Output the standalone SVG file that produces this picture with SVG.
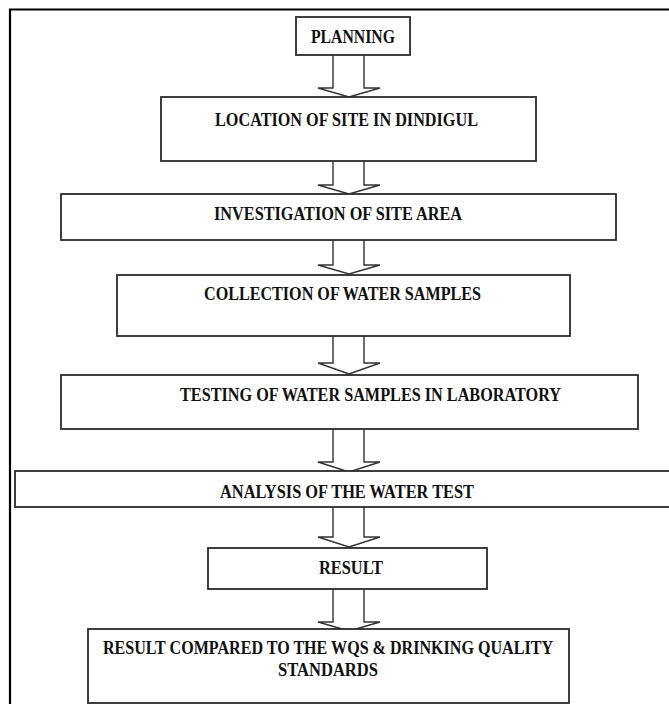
<svg xmlns="http://www.w3.org/2000/svg" width="669" height="704" viewBox="0 0 669 704">
<style>
.box{fill:#fff;stroke:#2b2b2b;stroke-width:1.8}
.arr{fill:none;stroke:#333;stroke-width:1.4;stroke-linejoin:miter}
.t{font-family:"Liberation Serif","Times New Roman",serif;font-weight:bold;font-size:19.5px;fill:#111;text-anchor:start}
</style>
<rect width="669" height="704" fill="#fff"/>
<path d="M10,704 V9.5 H669" fill="none" stroke="#000" stroke-width="2.2"/>
<g id="connectors">
<polyline class="arr" points="333,55 333,88 318,88 349,97 380,88 364,88 364,55"/>
<polyline class="arr" points="333,161 333,185 318,185 349,194 380,185 364,185 364,161"/>
<polyline class="arr" points="333,240 333,265 318,265 349,274 380,265 364,265 364,240"/>
<polyline class="arr" points="333,336 333,363 318,363 349,374 380,363 364,363 364,336"/>
<polyline class="arr" points="333,429 333,462 318,462 349,472 380,462 364,462 364,429"/>
<polyline class="arr" points="333,507 333,537 318,537 349,547 380,537 364,537 364,507"/>
<polyline class="arr" points="333,589 333,622 318,622 349,631 380,622 364,622 364,589"/>
</g>
<g id="planning">
<rect class="box" x="296" y="17" width="114" height="38"/>
<text class="t" x="311" y="43" textLength="84" lengthAdjust="spacingAndGlyphs">PLANNING</text>
</g>
<g id="location">
<rect class="box" x="161" y="97" width="375" height="64"/>
<text class="t" x="215" y="126" textLength="263" lengthAdjust="spacingAndGlyphs">LOCATION OF SITE IN DINDIGUL</text>
</g>
<g id="investigation">
<rect class="box" x="61" y="194" width="555" height="46"/>
<text class="t" x="214" y="220" textLength="248" lengthAdjust="spacingAndGlyphs">INVESTIGATION OF SITE AREA</text>
</g>
<g id="collection">
<rect class="box" x="117" y="275" width="453" height="61"/>
<text class="t" x="204" y="300" textLength="277" lengthAdjust="spacingAndGlyphs">COLLECTION OF WATER SAMPLES</text>
</g>
<g id="testing">
<rect class="box" x="61" y="375" width="577" height="54"/>
<text class="t" x="180" y="401" textLength="381" lengthAdjust="spacingAndGlyphs">TESTING OF WATER SAMPLES IN LABORATORY</text>
</g>
<g id="analysis">
<rect class="box" x="15" y="471" width="664" height="36"/>
<text class="t" x="220" y="498" textLength="254" lengthAdjust="spacingAndGlyphs">ANALYSIS OF THE WATER TEST</text>
</g>
<g id="result">
<rect class="box" x="208" y="548" width="279" height="41"/>
<text class="t" x="319" y="574" textLength="64" lengthAdjust="spacingAndGlyphs">RESULT</text>
</g>
<g id="compare">
<rect class="box" x="88" y="629" width="481" height="74"/>
<text class="t" x="103" y="654" textLength="450" lengthAdjust="spacingAndGlyphs">RESULT COMPARED TO THE WQS &amp; DRINKING QUALITY</text>
<text class="t" x="278" y="676" textLength="100" lengthAdjust="spacingAndGlyphs">STANDARDS</text>
</g>
</svg>
